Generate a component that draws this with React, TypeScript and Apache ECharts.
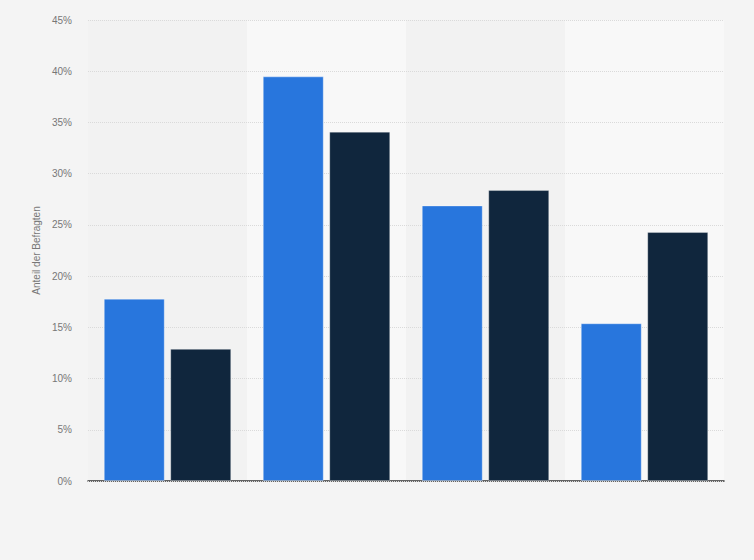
import { useEffect, useRef } from 'react';
import * as echarts from 'echarts';
import type { EChartsOption } from 'echarts';

const categories = ['Gruppe 1', 'Gruppe 2', 'Gruppe 3', 'Gruppe 4'];
const seriesA = [17.8, 39.5, 26.9, 15.4];
const seriesB = [12.9, 34.1, 28.4, 24.3];
const yTicks = { min: 0, max: 45, interval: 5 };

const font = '"Liberation Sans", Arial, sans-serif';

export default function App() {
  const chartRef = useRef<HTMLDivElement | null>(null);

  useEffect(() => {
    const element = chartRef.current;
    if (!element) {
      return;
    }

    const option: EChartsOption = {
      animation: false,
      backgroundColor: '#f4f4f4',
      textStyle: { fontFamily: font },
      grid: {
        left: 88,
        right: 30,
        top: 20,
        bottom: 79,
      },
      xAxis: {
        type: 'category',
        data: categories,
        z: 0,
        axisTick: { show: false },
        axisLabel: { show: false },
        axisLine: { lineStyle: { color: '#333333', width: 1.5 } },
        splitArea: {
          show: true,
          areaStyle: { color: ['#f2f2f2', '#f8f8f8'] },
        },
      },
      yAxis: {
        type: 'value',
        z: 1,
        min: yTicks.min,
        max: yTicks.max,
        interval: yTicks.interval,
        name: 'Anteil der Befragten',
        nameLocation: 'middle',
        nameGap: 43,
        nameTextStyle: { color: '#777777', fontSize: 10, fontFamily: font },
        axisLine: { show: false },
        axisTick: { show: false },
        axisLabel: {
          color: '#777777',
          fontSize: 10,
          margin: 16,
          fontFamily: font,
          formatter: '{value}%',
        },
        splitLine: {
          lineStyle: { color: '#dadada', type: 'dotted', width: 1 },
        },
      },
      series: [
        {
          name: 'Reihe 1',
          type: 'bar',
          z: 3,
          data: seriesA,
          barWidth: 61,
          barGap: '9%',
          itemStyle: {
            color: '#2876dd',
            borderColor: 'rgba(255,255,255,0.35)',
            borderWidth: 1,
          },
        },
        {
          name: 'Reihe 2',
          type: 'bar',
          z: 3,
          data: seriesB,
          barWidth: 61,
          barGap: '9%',
          itemStyle: {
            color: '#10263d',
            borderColor: 'rgba(255,255,255,0.3)',
            borderWidth: 1,
          },
        },
      ],
    };

    const chart = echarts.init(element, undefined, { renderer: 'svg' });
    chart.setOption(option);

    return () => {
      chart.dispose();
    };
  }, []);

  return (
    <div
      ref={chartRef}
      style={{ position: 'absolute', left: 0, top: 0, width: 754, height: 560 }}
    />
  );
}
